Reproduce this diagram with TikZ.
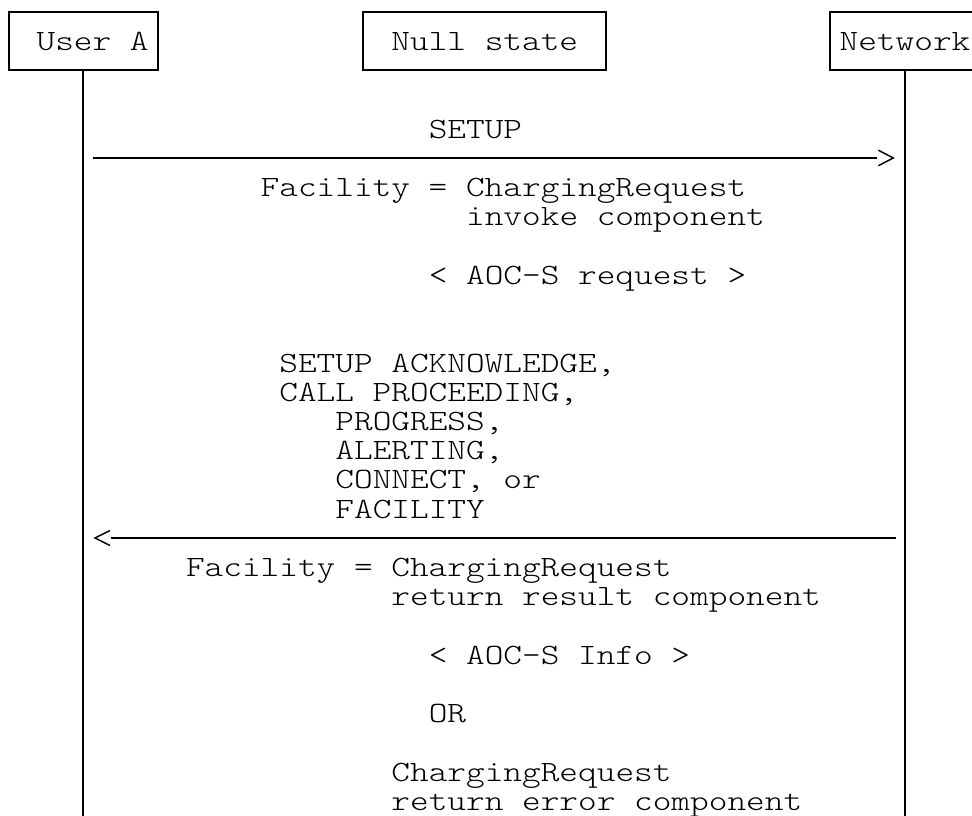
\documentclass[tikz,border=0pt]{standalone}
\usepackage{fontspec}
\newfontfamily\asciifont{lmmonolt10-regular.otf}[FakeStretch=1.207]
\begin{document}
\begin{tikzpicture}[x=0.75pt,y=-0.75pt,
  txt/.style={anchor=base west, inner sep=0pt, outer sep=0pt, font=\asciifont\fontsize{22.1pt}{26pt}\selectfont},
  box/.style={draw, line width=1.5pt, inner sep=0pt, minimum height=43.85pt},
  life/.style={line width=1.5pt},
  msg/.style={line width=1.5pt},
  chev/.style={line width=1.1pt, miter limit=10}]
\useasboundingbox (0,0) rectangle (972,816);

% header boxes
\node[box, minimum width=112.05pt] (ua) at (83.3,41.05) {};
\node[box, minimum width=182.08pt] (ns) at (484.8,41.05) {};
\node[box, minimum width=112.05pt] (nw) at (905.0,41.05) {};
\node[txt] (uat) at (36.61,50.55) {User A};
\node[txt] (nst) at (391.435,50.55) {Null state};
\node[txt] (nwt) at (839.635,50.55) {Network};

% lifelines
\coordinate (uaend) at (83.3,830);
\coordinate (nwend) at (905.0,830);
\draw[life] (ua.south) -- (uaend);
\draw[life] (nw.south) -- (nwend);

% message 1: SETUP
\node[txt] (m1a) at (428.785,138.24) {SETUP};
\coordinate (m1s) at (92.635,157.97);
\coordinate (m1e) at (876.985,157.97);
\draw[msg] (m1s) -- (m1e);
\draw[chev] (m1e) ++(1.3,-7.8) -- ++(15,7.8) -- ++(-15,7.8);
\node[txt] (m1b) at (260.71,196.7) {Facility = ChargingRequest};
\node[txt] (m1c) at (466.135,225.93) {invoke component};
\node[txt] (m1d) at (428.785,284.39) {< AOC-S request >};

% message 2
\node[txt] (m2a) at (279.385,372.08) {SETUP ACKNOWLEDGE,};
\node[txt] (m2b) at (279.385,401.31) {CALL PROCEEDING,};
\node[txt] (m2c) at (335.41,430.54) {PROGRESS,};
\node[txt] (m2d) at (335.41,459.77) {ALERTING,};
\node[txt] (m2e) at (335.41,489.0) {CONNECT, or};
\node[txt] (m2f) at (335.41,518.23) {FACILITY};
\coordinate (m2s) at (895.66,537.96);
\coordinate (m2e) at (111.31,537.96);
\draw[msg] (m2s) -- (m2e);
\draw[chev] (m2e) ++(-1.3,-7.5) -- ++(-15,7.5) -- ++(15,7.5);
\node[txt] (m2g) at (186.01,576.69) {Facility = ChargingRequest};
\node[txt] (m2h) at (391.435,605.92) {return result component};
\node[txt] (m2i) at (428.785,664.38) {< AOC-S Info >};
\node[txt] (m2j) at (428.785,722.84) {OR};
\node[txt] (m2k) at (391.435,781.3) {ChargingRequest};
\node[txt] (m2l) at (391.435,810.53) {return error component};
\end{tikzpicture}
\end{document}
